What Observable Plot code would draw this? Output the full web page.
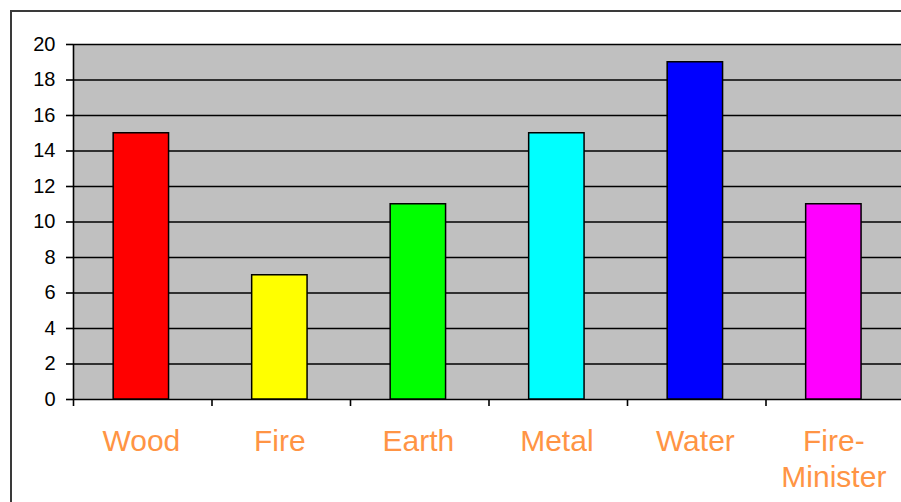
<!DOCTYPE html>
<html>
<head>
<meta charset="utf-8">
<script src="https://cdn.jsdelivr.net/npm/d3@7"></script>
<script src="https://cdn.jsdelivr.net/npm/@observablehq/plot@0.6"></script>
<style>
  html, body { margin: 0; padding: 0; background: #fff; overflow: hidden; width: 901px; height: 502px; }
  #frame { position: absolute; left: 10px; top: 10px; width: 1000px; height: 600px; border-left: 2px solid #3a3a3a; border-top: 2px solid #3a3a3a; }
  #chart { position: absolute; left: 0; top: 0; }
</style>
</head>
<body>
<div id="frame"></div>
<div id="chart"></div>
<script>
const categories = ["Wood", "Fire", "Earth", "Metal", "Water", "Fire-\nMinister"];
const values = [15, 7, 11, 15, 19, 11];
const colors = ["#ff0000", "#ffff00", "#00ff00", "#00ffff", "#0000ff", "#ff00ff"];
const yTicks = [0, 2, 4, 6, 8, 10, 12, 14, 16, 18, 20];

const data = categories.map((c, i) => ({category: c, value: values[i], color: colors[i], index: i}));

const chart = Plot.plot({
  width: 901,
  height: 502,
  marginLeft: 73,
  marginTop: 44,
  marginBottom: 103,
  marginRight: 0,
  style: {background: "transparent", fontFamily: "Liberation Sans, Arial, sans-serif"},
  x: {domain: [0, 6], range: [73, 904]},
  y: {domain: [0, 20], range: [399, 44]},
  marks: [
    Plot.frame({fill: "#c0c0c0", stroke: null}),
    Plot.ruleY(yTicks, {stroke: "#000", strokeWidth: 1.6}),
    Plot.rectY(data, {x1: d => d.index + 0.29, x2: d => d.index + 0.69, y: "value", fill: "color", stroke: "#000", strokeWidth: 1.5}),
    Plot.ruleX([0], {y1: 0, y2: 20, stroke: "#000", strokeWidth: 1.6}),
    Plot.axisY({ticks: yTicks, tickSize: 7, tickPadding: 11, fontSize: 20, color: "#000", label: null, strokeWidth: 1.6}),
    Plot.axisX({ticks: [0, 1, 2, 3, 4, 5], tickSize: 7, tickFormat: () => "", label: null, strokeWidth: 1.6}),
    Plot.text(data, {x: d => d.index + 0.49, y: 0, text: "category", lineAnchor: "top", dy: 26, lineHeight: 1.2, fontSize: 30, fill: "#ff9444"})
  ]
});
document.getElementById("chart").appendChild(chart);
</script>
</body>
</html>
